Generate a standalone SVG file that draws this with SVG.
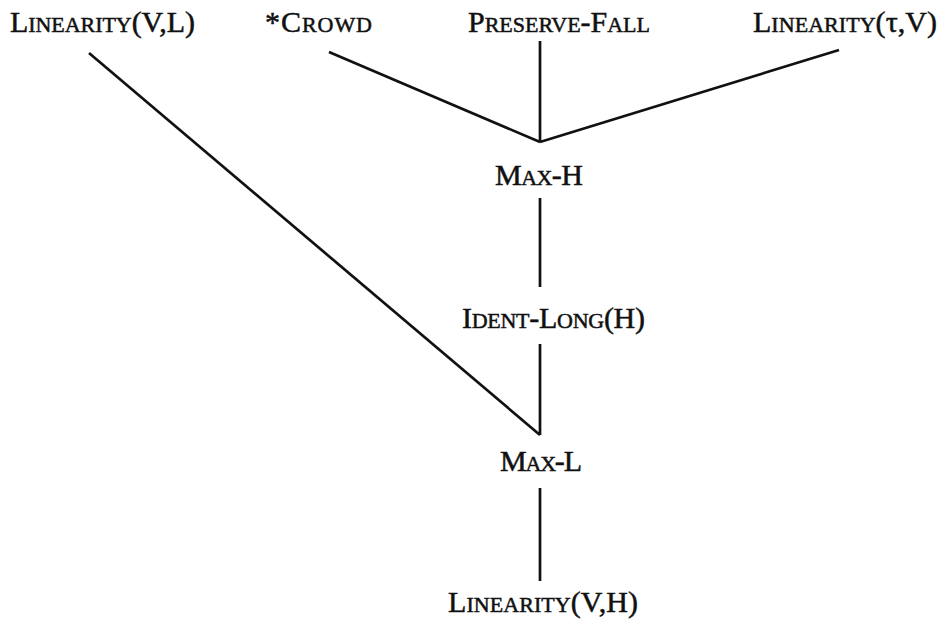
<svg xmlns="http://www.w3.org/2000/svg" width="942" height="619" viewBox="0 0 942 619">
  <style>
    .lbl { font-family: "Liberation Serif", "Times New Roman", serif; font-size: 30px; fill: #111; stroke: #111; stroke-width: 0.5; text-anchor: middle; }
    .sc { font-size: 22px; }
    .edge { stroke: #111; stroke-width: 2.7; fill: none; stroke-linecap: butt; }
  </style>
  <rect width="942" height="619" fill="#ffffff"/>

  <g id="connectors">
    <line class="edge" x1="89" y1="53" x2="540" y2="435"/>
    <line class="edge" x1="329" y1="52" x2="540" y2="142"/>
    <line class="edge" x1="540" y1="41" x2="540" y2="142"/>
    <line class="edge" x1="839" y1="50" x2="540" y2="142"/>
    <line class="edge" x1="540" y1="198" x2="540" y2="287"/>
    <line class="edge" x1="540" y1="344" x2="540" y2="435"/>
    <line class="edge" x1="540" y1="488" x2="540" y2="581"/>
  </g>

  <g id="linearity-vl">
    <text class="lbl" x="102.5" y="32" textLength="185" lengthAdjust="spacing">L<tspan class="sc">INEARITY</tspan>(V,L)</text>
  </g>
  <g id="crowd">
    <text class="lbl" x="318.5" y="32" textLength="107" lengthAdjust="spacing">*C<tspan class="sc">ROWD</tspan></text>
  </g>
  <g id="preserve-fall">
    <text class="lbl" x="559" y="32" textLength="182" lengthAdjust="spacing">P<tspan class="sc">RESERVE</tspan>-F<tspan class="sc">ALL</tspan></text>
  </g>
  <g id="linearity-tv">
    <text class="lbl" x="845" y="32" textLength="184" lengthAdjust="spacing">L<tspan class="sc">INEARITY</tspan>(τ,V)</text>
  </g>
  <g id="max-h">
    <text class="lbl" x="539" y="185" textLength="88" lengthAdjust="spacing">M<tspan class="sc">AX</tspan>-H</text>
  </g>
  <g id="ident-long-h">
    <text class="lbl" x="553.5" y="328" textLength="183" lengthAdjust="spacing">I<tspan class="sc">DENT</tspan>-L<tspan class="sc">ONG</tspan>(H)</text>
  </g>
  <g id="max-l">
    <text class="lbl" x="541" y="471" textLength="82" lengthAdjust="spacing">M<tspan class="sc">AX</tspan>-L</text>
  </g>
  <g id="linearity-vh">
    <text class="lbl" x="543" y="612" textLength="190" lengthAdjust="spacing">L<tspan class="sc">INEARITY</tspan>(V,H)</text>
  </g>
</svg>
